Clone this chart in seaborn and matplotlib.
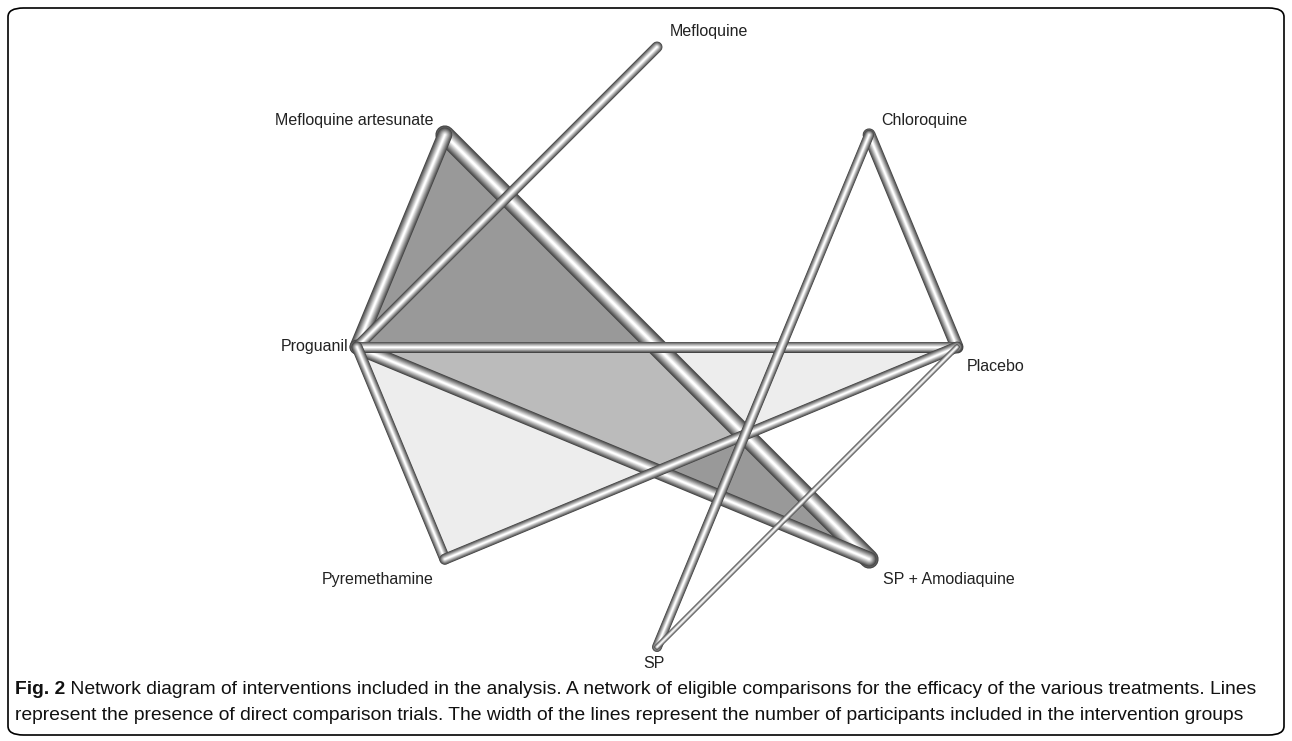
import numpy as np
import pandas as pd
import matplotlib
matplotlib.use("Agg")
import matplotlib.pyplot as plt
from matplotlib.patches import FancyBboxPatch
import seaborn as sns

sns.set_theme(style="white")
plt.rcParams['font.family'] = ['Liberation Sans', 'DejaVu Sans']

# treatments, in order round the circle (starting at the top, anticlockwise)
nodes = ["Mefloquine", "Mefloquine artesunate", "Proguanil", "Pyremethamine",
         "SP", "SP + Amodiaquine", "Placebo", "Chloroquine"]

# direct comparisons and line width (relative number of participants)
edge_a = ["Mefloquine artesunate", "Mefloquine artesunate", "Proguanil", "Chloroquine",
          "Mefloquine", "Proguanil", "Proguanil", "Pyremethamine", "Chloroquine", "Placebo"]
edge_b = ["SP + Amodiaquine", "Proguanil", "SP + Amodiaquine", "Placebo",
          "Proguanil", "Placebo", "Pyremethamine", "Placebo", "SP", "SP"]
edge_w = [19, 15, 15, 13, 11, 11, 11, 11, 10, 5.5]

# multi-arm trials (shaded)
tri_nodes = [["Mefloquine artesunate", "Proguanil", "SP + Amodiaquine"],
             ["Proguanil", "Pyremethamine", "Placebo"]]
tri_colors = ["#999999", "#dddddd"]
tri_alpha = [1.0, 0.5]

# circular layout
ang = {n: np.pi / 2 + i * np.pi / 4 for i, n in enumerate(nodes)}
pos = {n: (np.cos(a), np.sin(a)) for n, a in ang.items()}

W, H = 1292, 741
fig = plt.figure(figsize=(W / 100, H / 100), dpi=100)
ax = fig.add_axes([0, 0, 1, 1])
scale = 300.0
cx, cy = 657.0, 347.0
ax.set_xlim(-cx / scale, (W - cx) / scale)
ax.set_ylim(-(H - cy) / scale, cy / scale)
ax.set_axis_off()

for tri, col, al in zip(tri_nodes, tri_colors, tri_alpha):
    xs = [pos[n][0] for n in tri]
    ys = [pos[n][1] for n in tri]
    ax.fill(xs, ys, color=col, alpha=al, lw=0, zorder=1)

# tube-like lines: stacked strokes from dark rim to white centre
layers = np.linspace(1.0, 0.12, 10)
greys = np.linspace(0.27, 1.0, 10)
for a, b, w in zip(edge_a, edge_b, edge_w):
    df = pd.DataFrame({"x": [pos[a][0], pos[b][0]], "y": [pos[a][1], pos[b][1]]})
    for f, g in zip(layers, greys):
        sns.lineplot(data=df, x="x", y="y", ax=ax, sort=False, estimator=None,
                     color=(g, g, g), linewidth=w * f * 0.72,
                     solid_capstyle="round", solid_joinstyle="round", zorder=2)

# labels
lab_off = {"Mefloquine": (9, 11, "left"), "Mefloquine artesunate": (-8, 10, "right"),
           "Chloroquine": (9, 10, "left"), "Proguanil": (-6, 0, "right"),
           "Placebo": (7, -14, "left"), "Pyremethamine": (-8, -15, "right"),
           "SP + Amodiaquine": (10, -15, "left"), "SP": (-2, -12, "center")}
for n in nodes:
    dx, dy, ha = lab_off[n]
    ax.annotate(n, xy=pos[n], xytext=(dx, dy), textcoords="offset points",
                ha=ha, va="center", fontsize=11.5, color="#222222", zorder=5)

# caption
line1 = ("Network diagram of interventions included in the analysis. A network of eligible "
         "comparisons for the efficacy of the various treatments. Lines")
line2 = ("represent the presence of direct comparison trials. The width of the lines represent "
         "the number of participants included in the intervention groups")
t0 = fig.text(15 / W, 1 - 689 / H, "Fig. 2", fontsize=13, fontweight="bold",
              va="center", ha="left", color="#111111")
t1 = ax.annotate(" " + line1, xy=(1, 0.5), xycoords=t0, va="center", ha="left",
                 fontsize=13, color="#111111", annotation_clip=False)
t2 = fig.text(15 / W, 1 - 715 / H, line2, fontsize=13, va="center", ha="left",
              color="#111111")

# shrink caption so line 1 ends where the reference's does
r = fig.canvas.get_renderer()
right = t1.get_window_extent(r).x1
fs = 13 * (1255 - 15) / (right - 15)
for t in (t0, t1, t2):
    t.set_fontsize(fs)

box = FancyBboxPatch((8 / W, 6 / H), (W - 16) / W, (H - 14) / H,
                     boxstyle="round,pad=0,rounding_size=0.012",
                     transform=fig.transFigure, fill=False, ec="black", lw=1.2)
fig.patches.append(box)

fig.savefig("out.png", dpi=100)
